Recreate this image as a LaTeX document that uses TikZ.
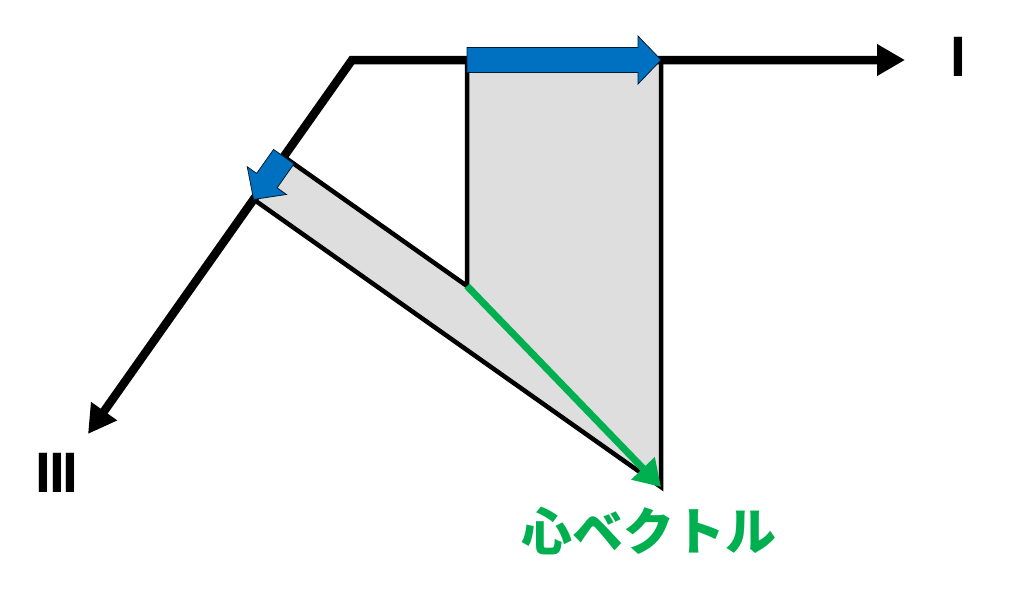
\documentclass[tikz,border=0pt]{standalone}
\usepackage{fontspec}
\setmainfont{Liberation Sans}
\newfontfamily\jpfont{Noto Sans CJK JP}
\usetikzlibrary{arrows.meta,calc}
\definecolor{myblue}{HTML}{0070C0}
\definecolor{mygreen}{HTML}{00B050}
\definecolor{mygray}{HTML}{DEDEDE}
\tikzset{
  axisline/.style={line width=8.5pt, line join=miter,
    {Triangle[length=28pt,width=30pt]}-{Triangle[length=28pt,width=30pt]}},
  edgeline/.style={line width=4.5pt, line join=miter},
  heartline/.style={draw=mygreen, line width=7pt,
    -{Triangle[length=26pt,width=31pt]}},
  comp/.style={fill=myblue, draw=black!75!myblue, line width=0.8pt, line join=miter},
  lab/.style={font=\bfseries\fontsize{57}{60}\selectfont, inner sep=0pt},
  jlab/.style={font=\jpfont\bfseries\fontsize{51}{56}\selectfont, text=mygreen, inner sep=0pt}
}
\newcommand\myblockarrow[2]{%
  \coordinate (hh) at ($(#2)!23pt!(#1)$);
  \filldraw[comp] ($(#1)!12.5pt!90:(#2)$) -- ($(hh)!12.5pt!-90:(#1)$)
    -- ($(hh)!24pt!-90:(#1)$) -- (#2) -- ($(hh)!24pt!90:(#1)$)
    -- ($(hh)!12.5pt!90:(#1)$) -- ($(#1)!12.5pt!-90:(#2)$) -- cycle;}
\begin{document}
\begin{tikzpicture}[x=1pt,y=-1pt]
\useasboundingbox (0,0) rectangle (1024,598);
\coordinate (C) at (352,60);
\coordinate (Iend) at (905,60);
\coordinate (IIIend) at (88,434);
\coordinate (tail) at (467,286);
\coordinate (tip) at (661,487);
\coordinate (pI1) at ($(C)!(tail)!(Iend)$);
\coordinate (pI2) at ($(C)!(tip)!(Iend)$);
\coordinate (p31) at ($(C)!(tail)!(IIIend)$);
\coordinate (p32) at ($(C)!(tip)!(IIIend)$);
% gray projection areas
\fill[mygray] (pI1) -- (pI2) -- (tip) -- (p32) -- (p31) -- (tail) -- cycle;
\draw[edgeline] (pI1) -- (tail) -- (p31);
\draw[edgeline] (pI2) -- (tip) -- (p32);
% axes
\draw[axisline] (IIIend) -- (C) -- (Iend);
% component arrows
\myblockarrow{pI1}{pI2}
\myblockarrow{p31}{p32}
% heart vector
\draw[heartline] (tail) -- (tip);
% labels
\node[lab] (lI) at (958,57) {I};
\node[lab] (lIII) at (57,473) {I\kern-2ptI\kern-2ptI};
\node[jlab] (lheart) at (649,531) {心ベクトル};
\end{tikzpicture}
\end{document}
